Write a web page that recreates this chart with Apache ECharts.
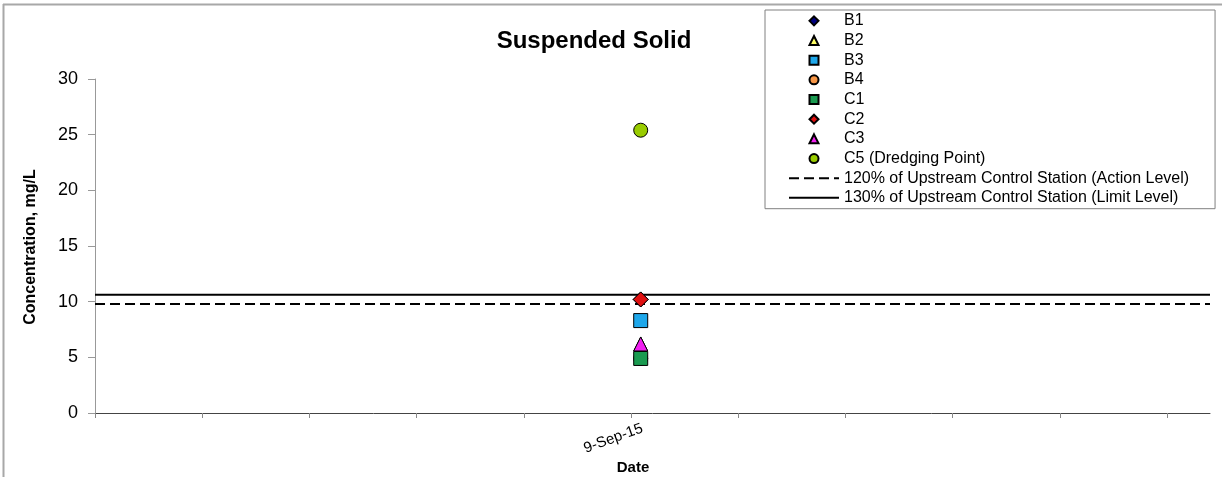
<!DOCTYPE html>
<html><head><meta charset="utf-8">
<script src="https://cdn.jsdelivr.net/npm/echarts@6/dist/echarts.min.js"></script>
<style>html,body{margin:0;padding:0;background:#fff}#c{width:1222px;height:477px}</style>
</head><body><div id="c"></div>
<script>
// ---- data ----
const stations = ['B1', 'B2', 'B3', 'B4', 'C1', 'C2', 'C3', 'C5 (Dredging Point)'];
const stationValues = [10.2, 6.2, 8.3, 4.9, 4.9, 10.2, 6.2, 25.4];
const stationSymbols = ['diamond', 'triangle', 'rect', 'circle', 'rect', 'diamond', 'triangle', 'circle'];
const stationColors = ['#000080', '#ffff66', '#1ea7ea', '#f79646', '#1a9a50', '#e01010', '#f020f0', '#99cc00'];
const symbolSizes = [15, 14, 14, 14, 14, 15, 14, 14];
const sampleDaySerial = [42256.09];           // 9-Sep-15 (Excel date serial)
const xTickLabels = ['', '', '', '', '', '9-Sep-15', '', '', '', '', ''];
const xStart = 42251, xEnd = 42261.4;
const actionLevel = [9.8];
const limitLevel = [10.62];
const lineNames = ['120% of Upstream Control Station (Action Level)', '130% of Upstream Control Station (Limit Level)'];
const yMin = 0, yMax = 30, yStep = 5;

const FONT = "'Liberation Sans', Arial, sans-serif";

// square-aspect legend icons (built-in symbols stretch to the legend item box)
const legendIcons = {
  diamond: 'path://M5,0L10,5L5,10L0,5Z',
  triangle: 'path://M5,0L10,10L0,10Z',
  rect: 'path://M0,0H10V10H0Z',
  circle: 'circle'
};

const series = [];
series.push({
  name: lineNames[0], type: 'line', symbol: 'none', silent: true,
  data: [[xStart, actionLevel[0]], [xEnd, actionLevel[0]]],
  lineStyle: { color: '#000', width: 2, type: [10, 5] }, itemStyle: { color: '#000' }, z: 1
});
series.push({
  name: lineNames[1], type: 'line', symbol: 'none', silent: true,
  data: [[xStart, limitLevel[0]], [xEnd, limitLevel[0]]],
  lineStyle: { color: '#000', width: 2 }, itemStyle: { color: '#000' }, z: 1
});
stations.forEach((s, i) => {
  series.push({
    name: s, type: 'scatter', symbol: stationSymbols[i], symbolSize: symbolSizes[i],
    data: sampleDaySerial.map(d => [d, stationValues[i]]),
    itemStyle: { color: stationColors[i], borderColor: '#000', borderWidth: 1, opacity: 1 }, z: 3
  });
});

const legendData = stations.map((s, i) => ({ name: s, icon: legendIcons[stationSymbols[i]] })).concat(
  lineNames.map(n => ({ name: n, itemStyle: { opacity: 0 } }))
);

const chart = echarts.init(document.getElementById('c'), null, { renderer: 'canvas' });
chart.setOption({
  animation: false,
  backgroundColor: '#fff',
  title: {
    text: 'Suspended Solid', left: 594, top: 29, textAlign: 'center', padding: 0,
    textStyle: { fontFamily: FONT, fontSize: 24, fontWeight: 'bold', color: '#000' }
  },
  grid: { left: 95, right: 12, top: 79, bottom: 64, containLabel: false },
  legend: {
    orient: 'vertical', left: 765, top: 10, align: 'left',
    padding: [1, 26, 1, 23], itemGap: 0, itemWidth: 50, itemHeight: 9,
    symbolKeepAspect: true,
    borderColor: '#808080', borderWidth: 1, backgroundColor: '#fff',
    textStyle: { fontFamily: FONT, fontSize: 16, color: '#000', lineHeight: 19.67 },
    data: legendData, selectedMode: false
  },
  xAxis: {
    type: 'value', min: xStart, max: xEnd, interval: 1,
    axisLine: { show: true, lineStyle: { color: '#444', width: 1 } },
    axisTick: { show: true, length: 5, lineStyle: { color: '#888' } },
    splitLine: { show: false },
    axisLabel: {
      rotate: 20, margin: 19, padding: [0, -12, 0, 0],
      fontFamily: FONT, fontSize: 15, color: '#000',
      formatter: v => xTickLabels[Math.round(v - xStart)] || '',
      showMaxLabel: false
    }
  },
  yAxis: {
    type: 'value', min: yMin, max: yMax, interval: yStep,
    axisLine: { show: true, lineStyle: { color: '#999', width: 1 } },
    axisTick: { show: true, length: 7, lineStyle: { color: '#999' } },
    splitLine: { show: false },
    axisLabel: { margin: 17, fontFamily: FONT, fontSize: 18, color: '#000' }
  },
  graphic: [
    { type: 'line', shape: { x1: 3, y1: 4.5, x2: 1222, y2: 4.5 }, style: { stroke: '#a8a8a8', lineWidth: 2 }, silent: true },
    { type: 'line', shape: { x1: 3.5, y1: 4, x2: 3.5, y2: 477 }, style: { stroke: '#a8a8a8', lineWidth: 2 }, silent: true },
    { type: 'text', x: 633, y: 468, silent: true,
      style: { text: 'Date', font: "bold 15px " + FONT, fill: '#000', textAlign: 'center', textVerticalAlign: 'middle' } },
    { type: 'text', x: 31, y: 247, rotation: Math.PI / 2, silent: true,
      style: { text: 'Concentration, mg/L', font: "bold 16px " + FONT, fill: '#000', textAlign: 'center', textVerticalAlign: 'middle' } }
  ],
  series: series
});
</script></body></html>
